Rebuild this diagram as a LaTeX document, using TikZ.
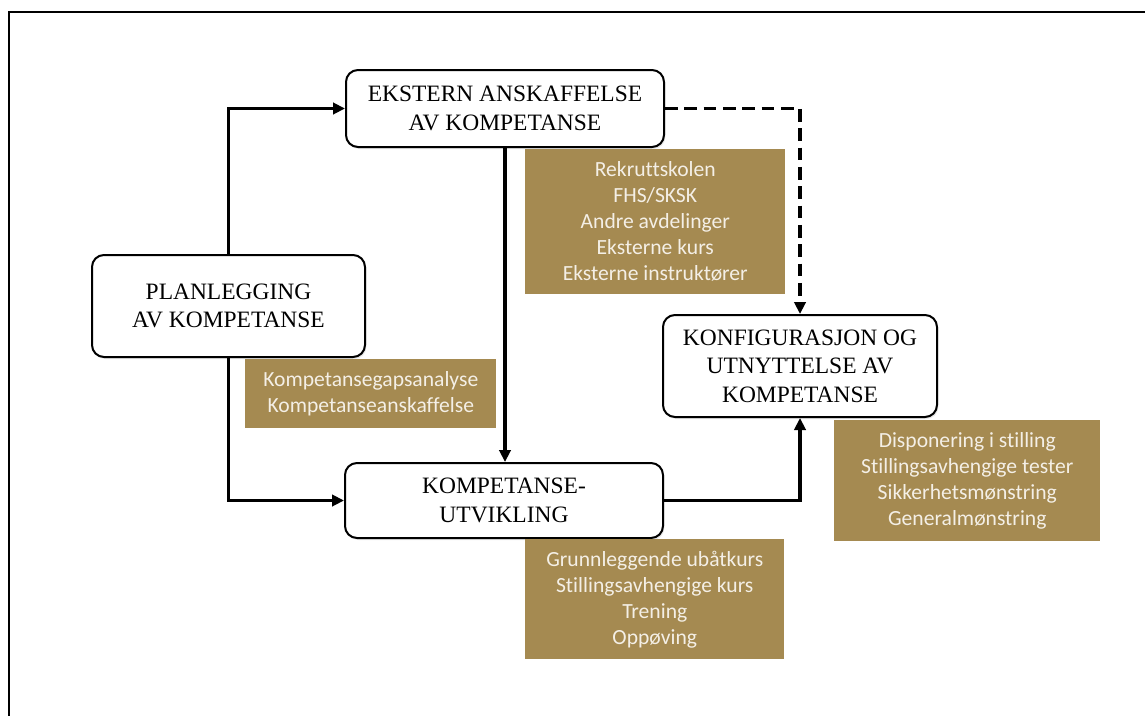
\documentclass[tikz,border=0pt]{standalone}
\usepackage{fontspec}
\setmainfont{Liberation Serif}
\newfontfamily\infofont[Ligatures=NoCommon]{Carlito}
\usetikzlibrary{arrows.meta, positioning, shadows}
\definecolor{gullbrun}{HTML}{A58A51}
\definecolor{kremhvit}{HTML}{F4EFE6}
\colorlet{colLinje}{black}
\tikzset{
  boks/.style={
    draw=colLinje, line width=1.5pt, rounded corners=9pt,
    fill=white, align=center, text=black,
    font=\fontsize{17.6}{21.3}\selectfont,
    drop shadow={shadow xshift=1pt, shadow yshift=-1.5pt, opacity=0.18}
  },
  infoboks/.style={
    fill=gullbrun, align=center, text=kremhvit, inner sep=0pt,
    font=\infofont\fontsize{16.2}{19.5}\selectfont
  },
  pil/.style={-{Triangle[length=9pt, width=8.5pt]}, line width=2.3pt, colLinje},
  pilStiplet/.style={pil, dash pattern=on 9.5pt off 5pt},
  ramme/.style={line width=1.7pt, colLinje},
}
\begin{document}
\begin{tikzpicture}[x=0.75pt, y=-0.75pt]
    \useasboundingbox (0,0) rectangle (1145,715);
    \draw[ramme] (9,740) |- (1170,12);

    % hovedboksene
    \node[boks, minimum width=204.75pt, minimum height=76.5pt] (plan) at (228.5,306)
        {PLANLEGGING\\AV KOMPETANSE};
    \node[boks, minimum width=238.5pt, minimum height=57.75pt] (ekstern) at (505,108.5)
        {EKSTERN ANSKAFFELSE\\AV KOMPETANSE};
    \node[boks, minimum width=238.5pt, minimum height=56.25pt] (utvikling) at (504,500.5)
        {KOMPETANSE-\\UTVIKLING};
    \node[boks, minimum width=205.5pt, minimum height=76.5pt] (konfig) at (800,366)
        {KONFIGURASJON OG\\UTNYTTELSE AV\\KOMPETANSE};

    % infoboksene
    \node[infoboks, minimum width=188.25pt, minimum height=51.75pt,
          below=0.5pt of plan.south, anchor=north west, xshift=12.4pt] (planInfo)
        {Kompetansegapsanalyse\\Kompetanseanskaffelse};
    \node[infoboks, minimum width=195pt, minimum height=108.75pt,
          below=0.5pt of ekstern.south, anchor=north west, xshift=15pt] (eksternInfo)
        {Rekruttskolen\\FHS/SKSK\\Andre avdelinger\\Eksterne kurs\\Eksterne instruktører};
    \node[infoboks, minimum width=194.25pt, minimum height=90pt,
          below=0pt of utvikling.south, anchor=north west, xshift=15.75pt] (utviklingInfo)
        {Grunnleggende ubåtkurs\\Stillingsavhengige kurs\\Trening\\Oppøving};
    \node[infoboks, minimum width=199.5pt, minimum height=90.75pt,
          below=1.5pt of konfig.south, anchor=north west, xshift=25.5pt] (konfigInfo)
        {Disponering i stilling\\Stillingsavhengige tester\\Sikkerhetsmønstring\\Generalmønstring};

    % piler
    \draw[pil] (plan.north) |- (ekstern.west);
    \draw[pil] (plan.south) |- (utvikling.west);
    \draw[pil] (ekstern.south) -- (ekstern.south |- utvikling.north);
    \draw[pilStiplet] (ekstern.east) -| (konfig.north);
    \draw[pil] (utvikling.east) -| (konfig.south);
\end{tikzpicture}
\end{document}
